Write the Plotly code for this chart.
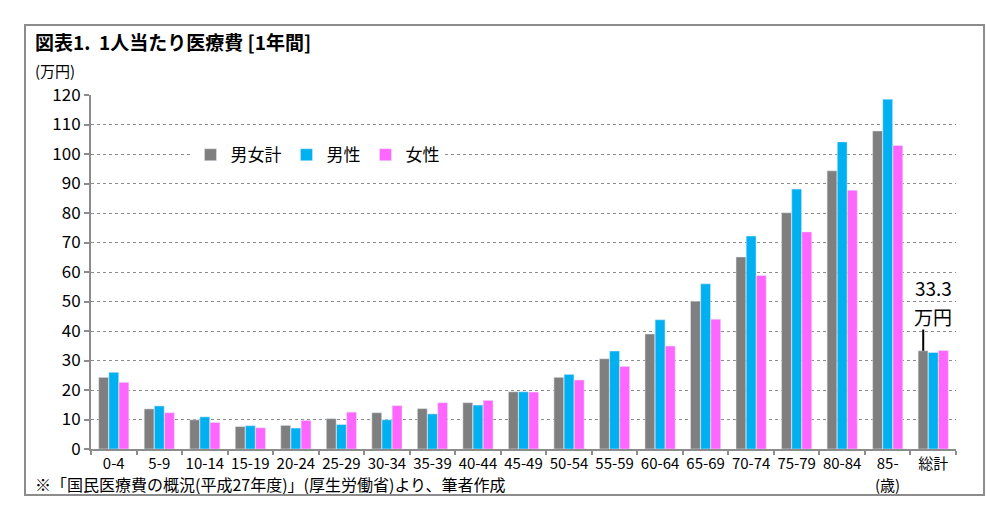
import plotly.graph_objects as go

ages = ["0-4", "5-9", "10-14", "15-19", "20-24", "25-29", "30-34", "35-39", "40-44",
        "45-49", "50-54", "55-59", "60-64", "65-69", "70-74", "75-79", "80-84", "85-", "総計"]
total = [24.3, 13.6, 9.9, 7.6, 8.0, 10.3, 12.3, 13.7, 15.7,
         19.4, 24.3, 30.6, 39.0, 50.1, 65.1, 80.1, 94.3, 107.8, 33.3]
male = [26.0, 14.6, 10.9, 7.9, 7.1, 8.3, 9.9, 11.9, 14.9,
        19.4, 25.3, 33.2, 43.8, 56.0, 72.2, 88.1, 104.1, 118.6, 32.7]
female = [22.6, 12.3, 9.0, 7.2, 9.7, 12.5, 14.7, 15.7, 16.5,
          19.3, 23.4, 28.0, 34.9, 44.0, 58.8, 73.6, 87.7, 102.9, 33.4]

font_jp = "Noto Sans CJK JP"

fig = go.Figure()
fig.add_trace(go.Bar(x=ages, y=total, name="男女計", marker_color="#7F7F7F"))
fig.add_trace(go.Bar(x=ages, y=male, name="男性", marker_color="#00B0F0"))
fig.add_trace(go.Bar(x=ages, y=female, name="女性", marker_color="#FF66FF"))

# 外枠
fig.add_shape(type="rect", xref="paper", yref="paper",
              x0=-0.0763, x1=1.0324, y0=-0.130, y1=1.198,
              line=dict(color="#8C8C8C", width=2), layer="below")

# 総計の注記
fig.add_shape(type="line", xref="x", yref="y",
              x0=len(ages) - 1 - 0.22, x1=len(ages) - 1 - 0.22,
              y0=total[-1], y1=total[-1] + 7.2,
              line=dict(color="black", width=2))
fig.add_annotation(x=ages[-1], y=total[-1] + 21.3, xref="x", yref="y",
                   text="33.3", showarrow=False, yanchor="middle",
                   font=dict(size=19, color="black", family=font_jp))
fig.add_annotation(x=ages[-1], y=total[-1] + 11.6, xref="x", yref="y",
                   text="万円", showarrow=False, yanchor="middle",
                   font=dict(size=19, color="black", family=font_jp))

fig.add_annotation(xref="paper", yref="paper", x=-0.067, y=1.15, xanchor="left",
                   yanchor="middle", showarrow=False,
                   text="<b>図表1.  1人当たり医療費 [1年間]</b>",
                   font=dict(size=19, color="black", family=font_jp))
fig.add_annotation(xref="paper", yref="paper", x=-0.067, y=1.07, xanchor="left",
                   yanchor="middle", showarrow=False, text="(万円)",
                   font=dict(size=15, color="black", family=font_jp))
fig.add_annotation(xref="paper", yref="paper", x=-0.067, y=-0.1, xanchor="left",
                   yanchor="middle", showarrow=False,
                   text="※「国民医療費の概況(平成27年度)」(厚生労働省)より、筆者作成",
                   font=dict(size=16, color="black", family=font_jp))
fig.add_annotation(xref="x", yref="paper", x="85-", y=-0.1, yanchor="middle",
                   showarrow=False, text="(歳)",
                   font=dict(size=15, color="black", family=font_jp))

fig.update_layout(
    width=1004, height=517,
    margin=dict(l=83, r=56, t=87, b=76),
    paper_bgcolor="white", plot_bgcolor="white",
    barmode="group", bargap=0.33, bargroupgap=0.03,
    font=dict(family=font_jp, color="black", size=15),
    legend=dict(orientation="h", x=0.115, y=0.83, xanchor="left", yanchor="middle",
                bgcolor="white", font=dict(size=17), itemwidth=30,
                traceorder="normal"),
    xaxis=dict(showline=True, linecolor="#8C8C8C", linewidth=2,
               ticks="outside", tickson="boundaries", ticklen=4, tickcolor="#8C8C8C",
               tickwidth=2, tickfont=dict(size=15), tickangle=0, automargin=False),
    yaxis=dict(range=[0, 120], dtick=10, showline=True, linecolor="#8C8C8C", linewidth=2,
               ticks="outside", ticklen=5, tickcolor="#8C8C8C", tickwidth=2,
               showgrid=True, gridcolor="#8C8C8C", griddash="dot", gridwidth=1,
               zeroline=False, tickfont=dict(size=17), automargin=False),
)

fig.write_html("out.html")
